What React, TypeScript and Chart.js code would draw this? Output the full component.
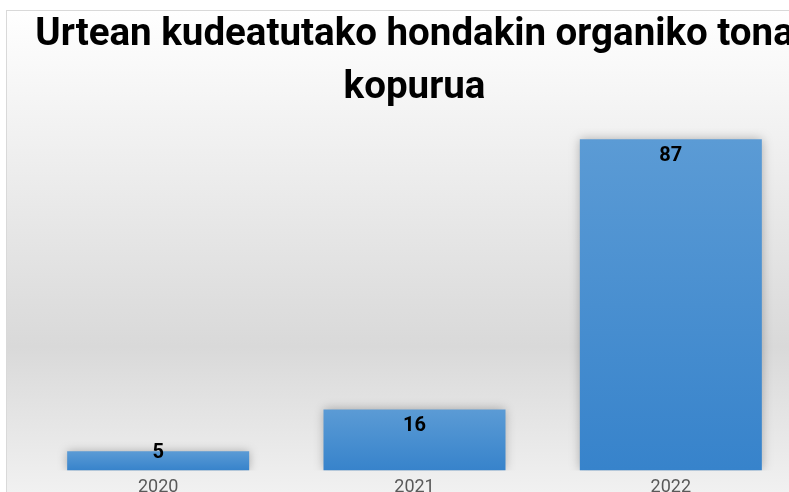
import { useEffect, useRef } from 'react';
import { Chart, registerables } from 'chart.js';

Chart.register(...registerables);

const categories = ['2020', '2021', '2022'];
const values = [5, 16, 87];
const titleLines = ['Urtean kudeatutako hondakin organiko tona', 'kopurua'];

const W = 830;
const H = 505;

export default function App() {
  const ref = useRef<HTMLCanvasElement>(null);

  useEffect(() => {
    const canvas = ref.current!;

    const bgPlugin = {
      id: 'bgBox',
      beforeDraw(chart: any) {
        const { ctx, width, height } = chart;
        ctx.save();
        const g = ctx.createLinearGradient(0, 10, 0, height);
        g.addColorStop(0, '#ffffff');
        g.addColorStop(0.68, '#d9d9d9');
        g.addColorStop(1, '#f3f3f3');
        ctx.fillStyle = g;
        ctx.fillRect(6, 10, width - 6, height - 10);
        ctx.strokeStyle = '#d9d9d9';
        ctx.lineWidth = 1;
        ctx.strokeRect(6.5, 10.5, width, height);
        ctx.restore();
      },
    };

    const shadowPlugin = {
      id: 'barShadow',
      beforeDatasetsDraw(chart: any) {
        const ctx = chart.ctx;
        ctx.save();
        ctx.shadowColor = 'rgba(0,0,0,0.28)';
        ctx.shadowBlur = 10;
        ctx.shadowOffsetX = 0;
        ctx.shadowOffsetY = 0;
      },
      afterDatasetsDraw(chart: any) {
        chart.ctx.restore();
      },
    };

    const labelPlugin = {
      id: 'valueLabels',
      afterDatasetsDraw(chart: any) {
        const meta = chart.getDatasetMeta(0);
        const ctx = chart.ctx;
        ctx.save();
        ctx.font = 'bold 20px Roboto';
        ctx.fillStyle = '#000000';
        ctx.textAlign = 'center';
        ctx.textBaseline = 'middle';
        meta.data.forEach((bar: any, i: number) => {
          const { x, y, base } = bar.getProps(['x', 'y', 'base'], true);
          const cy = Math.min(y + 17, base - 17.5);
          ctx.fillText(String(values[i]), x, cy);
        });
        ctx.restore();
      },
    };

    const chart = new Chart(canvas, {
      type: 'bar',
      data: {
        labels: categories,
        datasets: [
          {
            data: values,
            barPercentage: 0.71,
            categoryPercentage: 1,
            borderWidth: 0,
            backgroundColor: (c: any) => {
              const { ctx, chartArea, scales } = c.chart;
              if (!chartArea || c.type !== 'data') return '#5b9bd5';
              const ys = scales.y;
              const top = ys.getPixelForValue(c.parsed.y);
              const base = ys.getPixelForValue(0);
              const g = ctx.createLinearGradient(0, top, 0, base);
              g.addColorStop(0, '#5b9bd5');
              g.addColorStop(1, '#3783cb');
              return g;
            },
          },
        ],
      },
      options: {
        responsive: false,
        animation: false,
        devicePixelRatio: 1,
        layout: { padding: { left: 30, right: 31, top: 8, bottom: 1 } },
        plugins: {
          legend: { display: false },
          tooltip: { enabled: false },
          title: {
            display: true,
            text: titleLines,
            color: '#000000',
            font: { family: 'Roboto', size: 38.5, weight: 'bold', lineHeight: 1.4 },
            padding: { top: 0, bottom: 12 },
          },
        },
        scales: {
          x: {
            grid: { display: false, drawTicks: false },
            border: { display: false },
            ticks: { color: '#595959', font: { family: 'Roboto', size: 18 }, padding: 6 },
          },
          y: { display: false, min: 0, max: 90 },
        },
      },
      plugins: [bgPlugin, shadowPlugin, labelPlugin],
    });

    return () => chart.destroy();
  }, []);

  return (
    <div
      style={{
        position: 'fixed',
        left: 0,
        top: 0,
        width: 789,
        height: 492,
        overflow: 'hidden',
        background: '#ffffff',
      }}
    >
      <canvas ref={ref} width={W} height={H} style={{ display: 'block', width: W, height: H }} />
    </div>
  );
}
